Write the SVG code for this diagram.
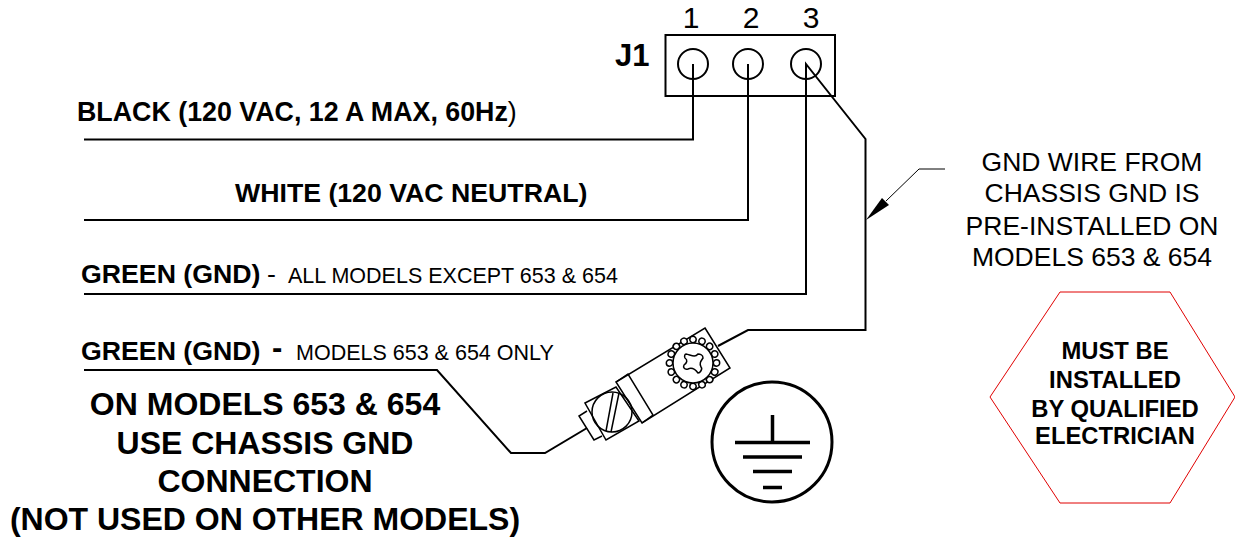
<svg xmlns="http://www.w3.org/2000/svg" width="1235" height="538" viewBox="0 0 1235 538">
<style>
text{font-family:"Liberation Sans",Arial,sans-serif;fill:#000}
.b{font-weight:bold}
.w{fill:none;stroke:#000;stroke-width:2;stroke-linejoin:miter}
.t{fill:none;stroke:#000;stroke-width:1.5}
.m{text-anchor:middle}
.s{fill:#fff;stroke:#000;stroke-width:1.5}
</style>
<defs><circle id="sc" class="s" cx="23.500" cy="0" r="3.200"/></defs>
<rect width="1235" height="538" fill="#fff"/>
<g id="connector-j1">
<rect class="w" x="665.500" y="35" width="169.500" height="61"/>
<circle class="w" cx="693" cy="64" r="15"/>
<circle class="w" cx="748" cy="64" r="15"/>
<circle class="w" cx="806" cy="64" r="15"/>
<text class="b" x="615" y="66" font-size="31">J1</text>
<text x="691" y="28" font-size="30" class="m">1</text>
<text x="751" y="28" font-size="30" class="m">2</text>
<text x="811" y="28" font-size="30" class="m">3</text>
</g>
<g id="connectors">
<path class="w" d="M84 139.500H693V64"/>
<path class="w" d="M84 220H748V64"/>
<path class="w" d="M84 294H806V64L865.500 139V330H748L718 346"/>
<path class="w" d="M84 370H437L511 453H545L587 428"/>
<path d="M945 169H919L886 201" fill="none" stroke="#000" stroke-width="1"/>
<path d="M866 220L882 198L889 205Z" fill="#000"/>
</g>
<g id="labels">
<text class="b" x="77" y="121" font-size="26.800">BLACK (120 VAC, 12 A MAX, 60Hz<tspan font-weight="normal">)</tspan></text>
<text class="b" x="235" y="202" font-size="26.700">WHITE (120 VAC NEUTRAL)</text>
<text class="b" x="81" y="283" font-size="26.700">GREEN (GND)</text>
<text x="267" y="283" font-size="26.700">-</text>
<text x="288" y="283" font-size="21.500">ALL MODELS EXCEPT 653 &amp; 654</text>
<text class="b" x="81" y="360" font-size="26.700">GREEN (GND)</text>
<text class="b" x="272" y="358" font-size="31">-</text>
<text x="296" y="360" font-size="21.500">MODELS 653 &amp; 654 ONLY</text>
<g class="b m" font-size="32">
<text x="265" y="415">ON MODELS 653 &amp; 654</text>
<text x="265" y="454">USE CHASSIS GND</text>
<text x="265" y="492">CONNECTION</text>
<text x="265" y="530">(NOT USED ON OTHER MODELS)</text>
</g>
<g class="m" font-size="26.500">
<text x="1092" y="171">GND WIRE FROM</text>
<text x="1092" y="202">CHASSIS GND IS</text>
<text x="1092" y="235">PRE-INSTALLED ON</text>
<text x="1092" y="266">MODELS 653 &amp; 654</text>
</g>
</g>
<g id="chassis-lug">
<path class="t" fill="#fff" d="M705 328L730 368L642 423L616 382Z"/>
<path class="t" d="M616 382L628 374L653 415L642 423"/>
<path class="t" d="M585 403L616 387L639 421L606 440Z"/>
<circle class="t" cx="612" cy="412" r="20"/>
<path class="t" d="M613 393L606 431M619 393L611 432"/>
<path class="t" d="M587 411L579 416L594 440L602 436"/>
<g transform="translate(693 363)">
<use href="#sc"/><use href="#sc" transform="rotate(22.500)"/><use href="#sc" transform="rotate(45)"/><use href="#sc" transform="rotate(67.500)"/><use href="#sc" transform="rotate(90)"/><use href="#sc" transform="rotate(112.500)"/><use href="#sc" transform="rotate(135)"/><use href="#sc" transform="rotate(157.500)"/><use href="#sc" transform="rotate(180)"/><use href="#sc" transform="rotate(202.500)"/><use href="#sc" transform="rotate(225)"/><use href="#sc" transform="rotate(247.500)"/><use href="#sc" transform="rotate(270)"/><use href="#sc" transform="rotate(292.500)"/><use href="#sc" transform="rotate(315)"/><use href="#sc" transform="rotate(337.500)"/>
<circle class="s" r="20"/>
</g>
<path class="t" d="M686 354C691 355 695 358 698 354C700 354 703 355 703 358C701 361 699 363 701 367C703 369 700 373 698 373C695 369 692 367 688 369C684 370 683 367 684 365C687 363 688 360 685 358C684 356 685 354 686 354Z"/>
</g>
<g id="ground-symbol">
<circle cx="772" cy="442" r="60" fill="none" stroke="#000" stroke-width="3"/>
<path d="M772.500 415V442M735 442.500H810M743 457H802M753 471.500H792M763 487.500H782" fill="none" stroke="#000" stroke-width="3.500"/>
</g>
<g id="warning">
<path d="M990 397L1060 292H1170L1235 397L1170 503H1060Z" fill="none" stroke="#e00000" stroke-width="1"/>
<g class="b m" font-size="23.800">
<text x="1115" y="359">MUST BE</text>
<text x="1115" y="388">INSTALLED</text>
<text x="1115" y="417">BY QUALIFIED</text>
<text x="1115" y="444">ELECTRICIAN</text>
</g>
</g>
</svg>
